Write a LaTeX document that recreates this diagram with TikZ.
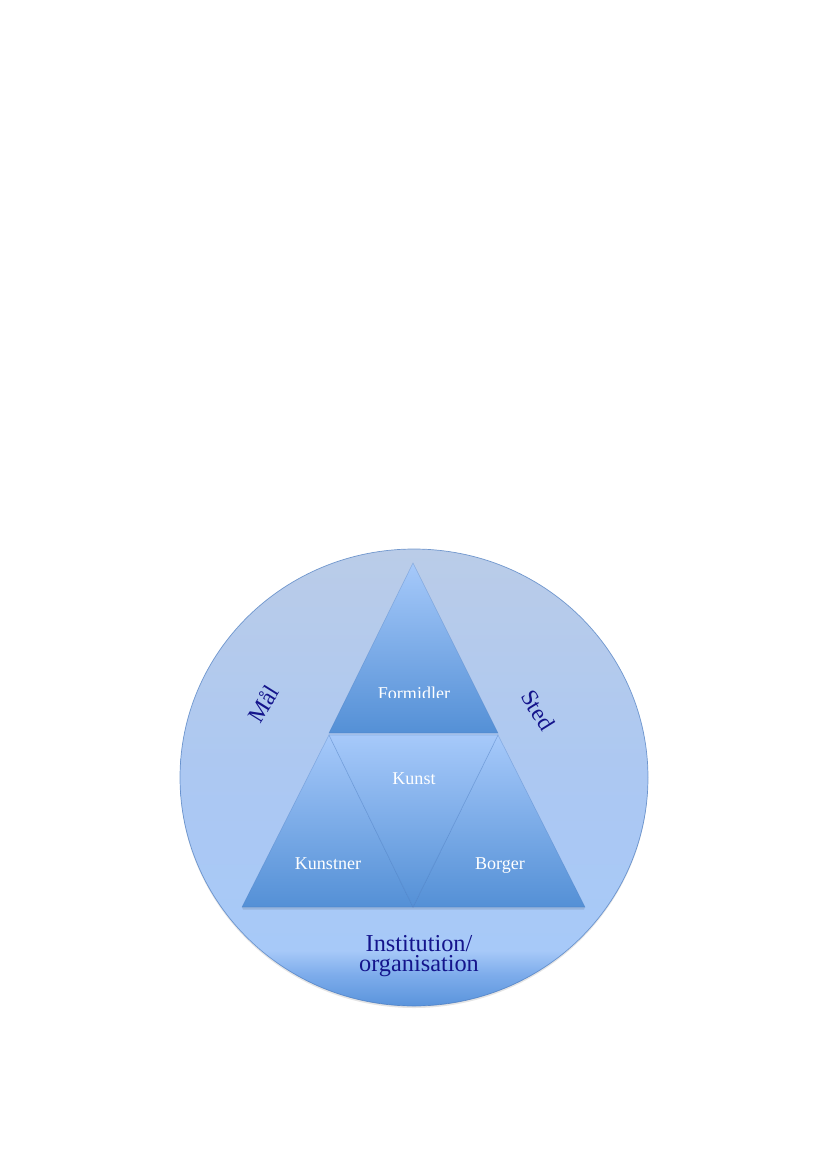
\documentclass[tikz,border=0pt]{standalone}
\usepackage{fontspec}
\setmainfont{Liberation Serif}
\usetikzlibrary{shapes.geometric}
\definecolor{cbot}{RGB}{90,148,220}
\definecolor{cbot2}{RGB}{125,172,235}
\definecolor{clow}{RGB}{167,201,248}
\definecolor{cmid}{RGB}{172,200,242}
\definecolor{ctop}{RGB}{186,204,232}
\definecolor{trtop}{RGB}{166,201,250}
\definecolor{trbot}{RGB}{84,144,214}
\definecolor{navy}{RGB}{20,20,140}
\definecolor{edgec}{RGB}{70,120,190}
\pgfdeclareverticalshading{circsh}{100bp}{%
  color(0bp)=(cbot); color(25bp)=(cbot); color(28.4bp)=(cbot2);
  color(31.1bp)=(clow); color(50bp)=(cmid); color(75bp)=(ctop); color(100bp)=(ctop)}
\tikzset{
  tri/.style={top color=trtop, bottom color=trbot, draw=edgec, draw opacity=0.35, line width=0.4pt},
  shadowc/.style={fill=black, fill opacity=0.10},
  wlabel/.style={text=white, font=\fontsize{13}{15}\selectfont, inner sep=0pt},
  nlabel/.style={text=navy, font=\fontsize{17}{16}\selectfont, inner sep=0pt}
}
\begin{document}
\begin{tikzpicture}[x=0.72pt,y=-0.72pt]
\useasboundingbox[fill=white] (0,0) rectangle (826,1169);
% shadow and outer circle
\fill[shadowc] (414,779.5) ellipse [x radius=234, y radius=228.5];
\shade[shading=circsh] (414,777.5) ellipse [x radius=234, y radius=228.5];
\draw[edgec, line width=0.5pt, draw opacity=0.7] (414,777.5) ellipse [x radius=234, y radius=228.5];
% triangle shadows
\fill[shadowc] (242,907) -- (585,907) -- (584,909.5) -- (243,909.5) -- cycle;
% triangles
\shade[tri] (413,563) -- (498,733) -- (329,733) -- cycle;
\shade[tri] (329,735) -- (413,907) -- (242,907) -- cycle;
\shade[tri] (498,735) -- (585,907) -- (413,907) -- cycle;
\shade[tri] (329,735) -- (498,735) -- (413,907) -- cycle;
% labels
\begin{scope}
\clip (330,660) rectangle (500,697.8);
\node[wlabel, anchor=base] (formidler) at (414,699.5) {Formidler};
\end{scope}
\node[wlabel, anchor=base] (kunst) at (414,784) {Kunst};
\node[wlabel, anchor=base] (kunstner) at (328,869) {Kunstner};
\node[wlabel, anchor=base] (borger) at (500,869) {Borger};
\node[nlabel, rotate=58] (maal) at (263,704) {Mål};
\node[nlabel, rotate=-58] (sted) at (538,710) {Sted};
\node[nlabel, font=\fontsize{17.5}{14.2}\selectfont, align=center] (inst) at (419,956) {Institution/\\organisation};
\end{tikzpicture}
\end{document}
